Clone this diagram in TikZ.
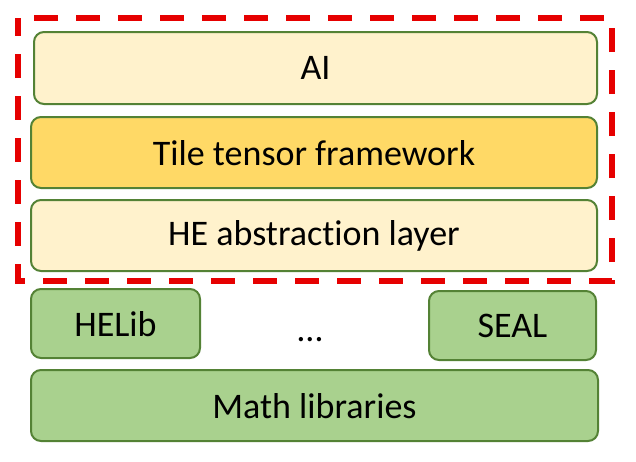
\documentclass[tikz,border=0pt]{standalone}
\usepackage{fontspec}
\setmainfont[Ligatures={NoCommon,NoRare}]{Carlito}
\definecolor{bord}{RGB}{84,130,53}
\definecolor{lyel}{RGB}{255,242,204}
\definecolor{gold}{RGB}{255,217,102}
\definecolor{lgreen}{RGB}{169,209,142}
\definecolor{dred}{RGB}{230,0,0}
\tikzset{
  layer/.style={draw=bord, line width=2pt, rounded corners=10pt},
  lbl/.style={font=\fontsize{36}{42}\selectfont, text=black}
}
\begin{document}
\begin{tikzpicture}[x=1pt,y=-1pt]
\useasboundingbox (0,0) rectangle (636,461);
\fill[white] (0,0) rectangle (636,461);
% boxes
\draw[layer, fill=lyel] (34,32) rectangle (597,104);
\node[lbl] (ai) at (315.5,68) {AI};
\draw[layer, fill=gold] (31,117) rectangle (597,188);
\node[lbl] (tile) at (314,153) {Tile tensor framework};
\draw[layer, fill=lyel] (31,200) rectangle (597,271);
\node[lbl] (he) at (314,236) {HE abstraction layer};
\draw[layer, fill=lgreen] (31,289) rectangle (200,358);
\node[lbl] (helib) at (115.5,324) {HELib};
\draw[layer, fill=lgreen] (429,291) rectangle (596,360);
\node[lbl] (seal) at (512.5,326) {SEAL};
\node[lbl] (dots) at (310,340) {\ldots};
\draw[layer, fill=lgreen] (31,370) rectangle (598,441);
\node[lbl] (math) at (314.5,406) {Math libraries};
% red dashed frame
\draw[dred, line width=5.5pt, dash pattern=on 24pt off 18pt, dash phase=6pt] (18,18) rectangle (612,281);
\end{tikzpicture}
\end{document}
